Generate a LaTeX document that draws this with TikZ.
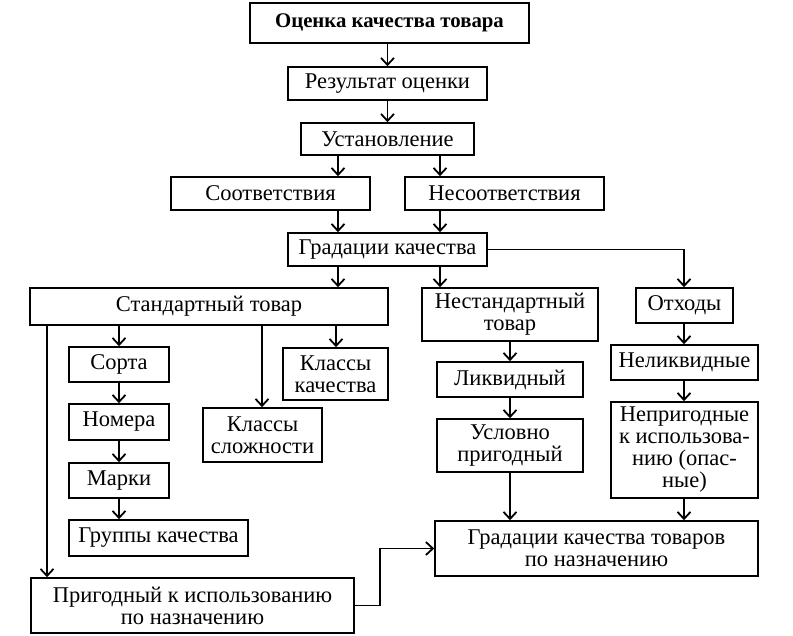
\documentclass[tikz,border=0pt]{standalone}
\usepackage{fontspec}
\setmainfont{Liberation Serif}
\usetikzlibrary{arrows.meta}

\begin{document}
\begin{tikzpicture}[x=1pt,y=1pt,yscale=-1,
  box/.style={draw,line width=1.6pt,inner sep=0pt,align=center,
    font=\fontsize{22.5}{22}\selectfont},
  arr/.style={line width=1.6pt,-{Straight Barb[length=7pt,width=13pt,line width=1.8pt]}},
  line/.style={line width=1.6pt}]
\useasboundingbox (0,0) rectangle (793,635);

% Column coordinates
\coordinate (colL) at (338,0);
\coordinate (colR) at (440,0);
\coordinate (colN) at (510,0);
\coordinate (colO) at (684,0);
\coordinate (colS) at (119,0);
\coordinate (colKS) at (262,0);
\coordinate (colKK) at (336,0);
\coordinate (colP) at (47,0);
\coordinate (colB) at (380,0);

% Text Node
\node[box,minimum width=279,minimum height=40,font=\fontsize{20.8}{22}\selectfont\bfseries] (ocenka) at (389.5,23) {Оценка качества товара};
\node[box,minimum width=199,minimum height=33] (rezult) at (387.5,83.5) {Результат оценки};
\node[box,minimum width=173,minimum height=32] (ustan) at (387.5,139) {Установление};
\node[box,minimum width=199,minimum height=33] (sootv) at (270.5,193.5) {Соответствия};
\node[box,minimum width=199,minimum height=33] (nesootv) at (504.5,193.5) {Несоответствия};
\node[box,minimum width=199,minimum height=33] (gradacii) at (387.5,249.5) {Градации качества};
% Text Node
\node[box,minimum width=358,minimum height=37] (standart) at (209,306.5) {Стандартный товар};
\node[box,minimum width=176,minimum height=53] (nestandart) at (510,314.5) {Нестандартный\\товар};
\node[box,minimum width=97,minimum height=35] (othody) at (684.5,305.5) {Отходы};
% Text Node
\node[box,minimum width=100,minimum height=35] (sorta) at (119,364.5) {Сорта};
\node[box,minimum width=100,minimum height=36] (nomera) at (119,422) {Номера};
\node[box,minimum width=100,minimum height=35] (marki) at (119,480.5) {Марки};
\node[box,minimum width=179,minimum height=36] (gruppy) at (158.5,538) {Группы качества};
\node[box,minimum width=119,minimum height=54] (klslozh) at (262.5,435) {Классы\\сложности};
\node[box,minimum width=105,minimum height=52] (klkach) at (335.5,374) {Классы\\качества};
\node[box,minimum width=323,minimum height=55] (prigodny) at (192.5,605.5) {Пригодный к использованию\\по назначению};
% Text Node
\node[box,minimum width=146,minimum height=35] (likvid) at (510,379.5) {Ликвидный};
\node[box,minimum width=146,minimum height=53] (uslovno) at (510,445.5) {Условно\\пригодный};
\node[box,minimum width=147,minimum height=35] (nelikvid) at (684.5,362.5) {Неликвидные};
\node[box,minimum width=147,minimum height=96] (neprig) at (684.5,450) {Непригодные\\к использова-\\нию (опас-\\ные)};
\node[box,minimum width=323,minimum height=55] (gradtov) at (596.5,548.5) {Градации качества товаров\\по назначению};

% Straight Lines
\draw[arr] (ocenka.south -| rezult) -- (rezult);
\draw[arr] (rezult) -- (ustan);
\draw[arr] (ustan.south -| colL) -- (sootv.north -| colL);
\draw[arr] (ustan.south -| colR) -- (nesootv.north -| colR);
\draw[arr] (sootv.south -| colL) -- (gradacii.north -| colL);
\draw[arr] (nesootv.south -| colR) -- (gradacii.north -| colR);
\draw[arr] (gradacii.south -| colL) -- (standart.north -| colL);
\draw[arr] (gradacii.south -| colR) -- (nestandart.north -| colR);
\draw[arr] (gradacii.east) -| (othody.north -| colO);
% Straight Lines
\draw[arr] (standart.south -| colS) -- (sorta.north -| colS);
\draw[arr] (sorta.south -| colS) -- (nomera.north -| colS);
\draw[arr] (nomera.south -| colS) -- (marki.north -| colS);
\draw[arr] (marki.south -| colS) -- (gruppy.north -| colS);
\draw[arr] (standart.south -| colKS) -- (klslozh.north -| colKS);
\draw[arr] (standart.south -| colKK) -- (klkach.north -| colKK);
\draw[arr] (standart.south -| colP) -- (prigodny.north -| colP);
\draw[arr] (prigodny.east) -- (prigodny.east -| colB) |- (gradtov.west);
% Straight Lines
\draw[arr] (nestandart.south -| colN) -- (likvid.north -| colN);
\draw[arr] (likvid.south -| colN) -- (uslovno.north -| colN);
\draw[arr] (uslovno.south -| colN) -- (gradtov.north -| colN);
\draw[arr] (othody.south -| colO) -- (nelikvid.north -| colO);
\draw[arr] (nelikvid.south -| colO) -- (neprig.north -| colO);
\draw[arr] (neprig.south -| colO) -- (gradtov.north -| colO);

\end{tikzpicture}
\end{document}
